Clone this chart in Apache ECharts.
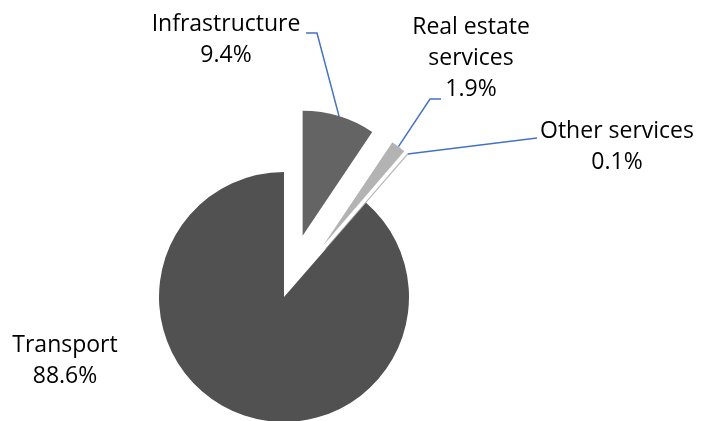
<!DOCTYPE html>
<html>
<head>
<meta charset="utf-8">
<script src="https://cdn.jsdelivr.net/npm/echarts@6/dist/echarts.min.js"></script>
<style>html,body{margin:0;padding:0;background:#fff;}#c{width:702px;height:421px;}</style>
</head>
<body>
<div id="c"></div>
<script>
var categories = ['Infrastructure', 'Real estate services', 'Other services', 'Transport'];
var labelNames = ['Infrastructure', 'Real estate\nservices', 'Other services', 'Transport'];
var values = [9.4, 1.9, 0.1, 88.6];
var colors = ['#646464', '#b3b3b3', '#e6e6e6', '#515151'];
var explode = [64, 64, 64, 0];

// label placement (text block centre) and leader-line elbows
var labelPos = [[226, 40], [471, 58], [617, 147], [65, 361]];
var elbows = [[[317, 33], [306, 33]], [[430, 99], [441, 99]], [[537, 138], [537, 138]], null];

var baseCenter = [284, 297], radius = 125;
var total = values.reduce(function (a, b) { return a + b; }, 0);

function midAngle(i) {
  var before = 0;
  for (var k = 0; k < i; k++) before += values[k];
  return (before + values[i] / 2) / total * 2 * Math.PI;
}
function sliceCenter(i) {
  var a = midAngle(i);
  return [baseCenter[0] + Math.sin(a) * explode[i], baseCenter[1] - Math.cos(a) * explode[i]];
}
function edgePoint(i) {
  var a = midAngle(i), c = sliceCenter(i);
  return [c[0] + Math.sin(a) * radius, c[1] - Math.cos(a) * radius];
}

var series = categories.map(function (cat, s) {
  return {
    type: 'pie',
    center: sliceCenter(s),
    radius: radius,
    startAngle: 90,
    clockwise: true,
    avoidLabelOverlap: false,
    silent: true,
    data: categories.map(function (c, i) {
      var own = i === s;
      return {
        name: c,
        value: values[i],
        itemStyle: own
          ? { color: colors[i], borderColor: i === 2 ? '#a0a0a0' : 'transparent', borderWidth: i === 2 ? 0.6 : 0 }
          : { color: 'rgba(0,0,0,0)', borderWidth: 0 },
        label: { show: own },
        labelLine: { show: own && !!elbows[i] }
      };
    }),
    label: {
      formatter: function (p) { return labelNames[p.dataIndex] + '\n' + p.value.toFixed(1) + '%'; },
      fontFamily: 'Open Sans',
      fontSize: 23,
      lineHeight: 31,
      color: '#000',
      align: 'center'
    },
    labelLine: {
      lineStyle: { color: '#4472C4', width: 1.5 }
    },
    labelLayout: function (p) {
      var i = p.dataIndex;
      var res = { x: labelPos[i][0], y: labelPos[i][1], align: 'center', verticalAlign: 'middle' };
      if (elbows[i]) {
        res.labelLinePoints = [edgePoint(i), elbows[i][0], elbows[i][1]];
      }
      return res;
    },
    emphasis: { disabled: true }
  };
});

var chart = echarts.init(document.getElementById('c'));
chart.setOption({ animation: false, series: series });
</script>
</body>
</html>
